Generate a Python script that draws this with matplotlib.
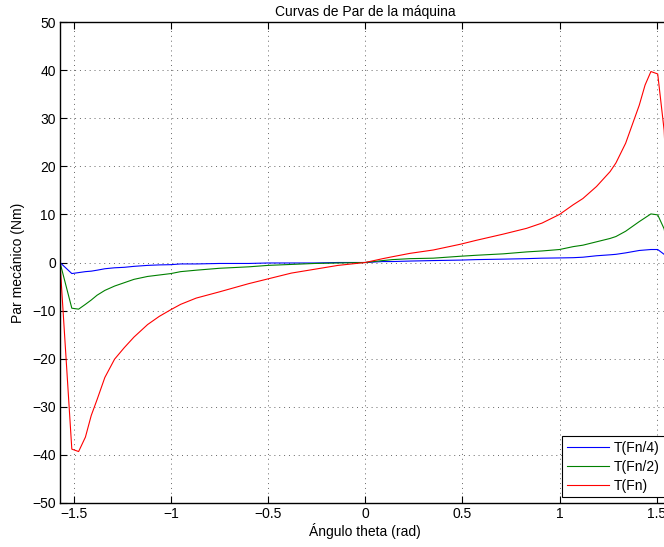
import numpy as np
import matplotlib
matplotlib.use('Agg')
import matplotlib.pyplot as plt

# angle samples (rad) and torque readings (Nm) for the three field levels
theta = [-1.5708, -1.51, -1.475, -1.44, -1.41, -1.38, -1.34, -1.29, -1.24, -1.19,
         -1.12, -1.06, -1.0, -0.95, -0.87, -0.75, -0.6, -0.5, -0.38, -0.26,
         -0.14, 0.0, 0.09, 0.14, 0.23, 0.35, 0.49, 0.57, 0.71, 0.83,
         0.91, 1.0, 1.07, 1.12, 1.19, 1.26, 1.29, 1.34, 1.41, 1.44,
         1.47, 1.505, 1.538, 1.5708]

T_fn4 = [0, -2.3, -2.1, -1.9, -1.8, -1.6, -1.3, -1.1, -1.0, -0.8,
         -0.6, -0.5, -0.45, -0.3, -0.3, -0.2, -0.2, -0.1, -0.1, -0.1,
         0.0, 0.0, 0.2, 0.2, 0.3, 0.4, 0.5, 0.6, 0.7, 0.8,
         0.9, 0.95, 1.0, 1.1, 1.4, 1.6, 1.7, 2.0, 2.5, 2.6,
         2.7, 2.7, 1.7, 0]

T_fn2 = [0, -9.5, -9.7, -8.7, -7.8, -6.8, -5.8, -4.9, -4.2, -3.5,
         -2.9, -2.6, -2.3, -1.9, -1.6, -1.2, -0.9, -0.6, -0.4, -0.2,
         -0.1, 0.0, 0.4, 0.6, 0.8, 0.9, 1.3, 1.5, 1.8, 2.2,
         2.4, 2.7, 3.3, 3.6, 4.3, 5.0, 5.4, 6.5, 8.5, 9.3,
         10.1, 9.9, 7.0, 0]

T_fn = [0, -38.8, -39.3, -36.3, -31.8, -28.5, -23.9, -20.1, -17.7, -15.5,
        -12.9, -11.2, -9.8, -8.7, -7.4, -6.1, -4.4, -3.4, -2.2, -1.4,
        -0.6, 0.0, 0.8, 1.2, 1.9, 2.6, 3.8, 4.6, 5.9, 7.1,
        8.2, 10.0, 12.0, 13.3, 15.8, 18.9, 20.7, 24.8, 32.7, 36.9,
        39.7, 39.2, 27.5, 0]

labels = ['T(Fn/4)', 'T(Fn/2)', 'T(Fn)']
xticks = [-1.5, -1, -0.5, 0, 0.5, 1, 1.5]
xticklabels = ['\u22121.5', '\u22121', '\u22120.5', '0', '0.5', '1', '1.5']
yticks = list(range(-50, 51, 10))

plt.rcParams['font.family'] = ['Liberation Sans', 'DejaVu Sans']
plt.rcParams['font.size'] = 10

fig = plt.figure(figsize=(6.64, 5.47), dpi=100)
# axes runs a little past the right border of the figure
ax = fig.add_axes([60/664, 44/547, 610.5/664, 481/547])

ax.plot(theta, T_fn4, color=(0, 0, 1), lw=0.8, label=labels[0])
ax.plot(theta, T_fn2, color=(0, 0.5, 0), lw=0.8, label=labels[1])
ax.plot(theta, T_fn, color=(1, 0, 0), lw=0.8, label=labels[2])

ax.set_xlim(-np.pi/2, np.pi/2)
ax.set_ylim(-50, 50)
ax.set_xticks(xticks)
ax.set_xticklabels(xticklabels)
ax.set_yticks(yticks)
ax.set_yticklabels([str(v).replace('-', '\u2212') for v in yticks])
ax.tick_params(direction='in', length=5, width=0.8, top=True, right=True,
               labelsize=10, pad=3)
ax.grid(True, color='0.4', linestyle=(0, (1, 4)), linewidth=0.7)
for sp in ax.spines.values():
    sp.set_linewidth(1.0)

ax.set_title('Curvas de Par de la m\u00e1quina', fontsize=10, pad=4)
ax.set_xlabel('\u00c1ngulo theta (rad)', fontsize=10, labelpad=1)
ax.set_ylabel('Par mec\u00e1nico (Nm)', fontsize=10, labelpad=5)

leg = ax.legend(loc='lower right', fontsize=10, fancybox=False, framealpha=1,
                edgecolor='black', handlelength=3.0, labelspacing=0.35,
                borderaxespad=0.4, borderpad=0.35, handletextpad=0.4)
leg.get_frame().set_linewidth(0.8)

fig.savefig('out.png', dpi=100)
